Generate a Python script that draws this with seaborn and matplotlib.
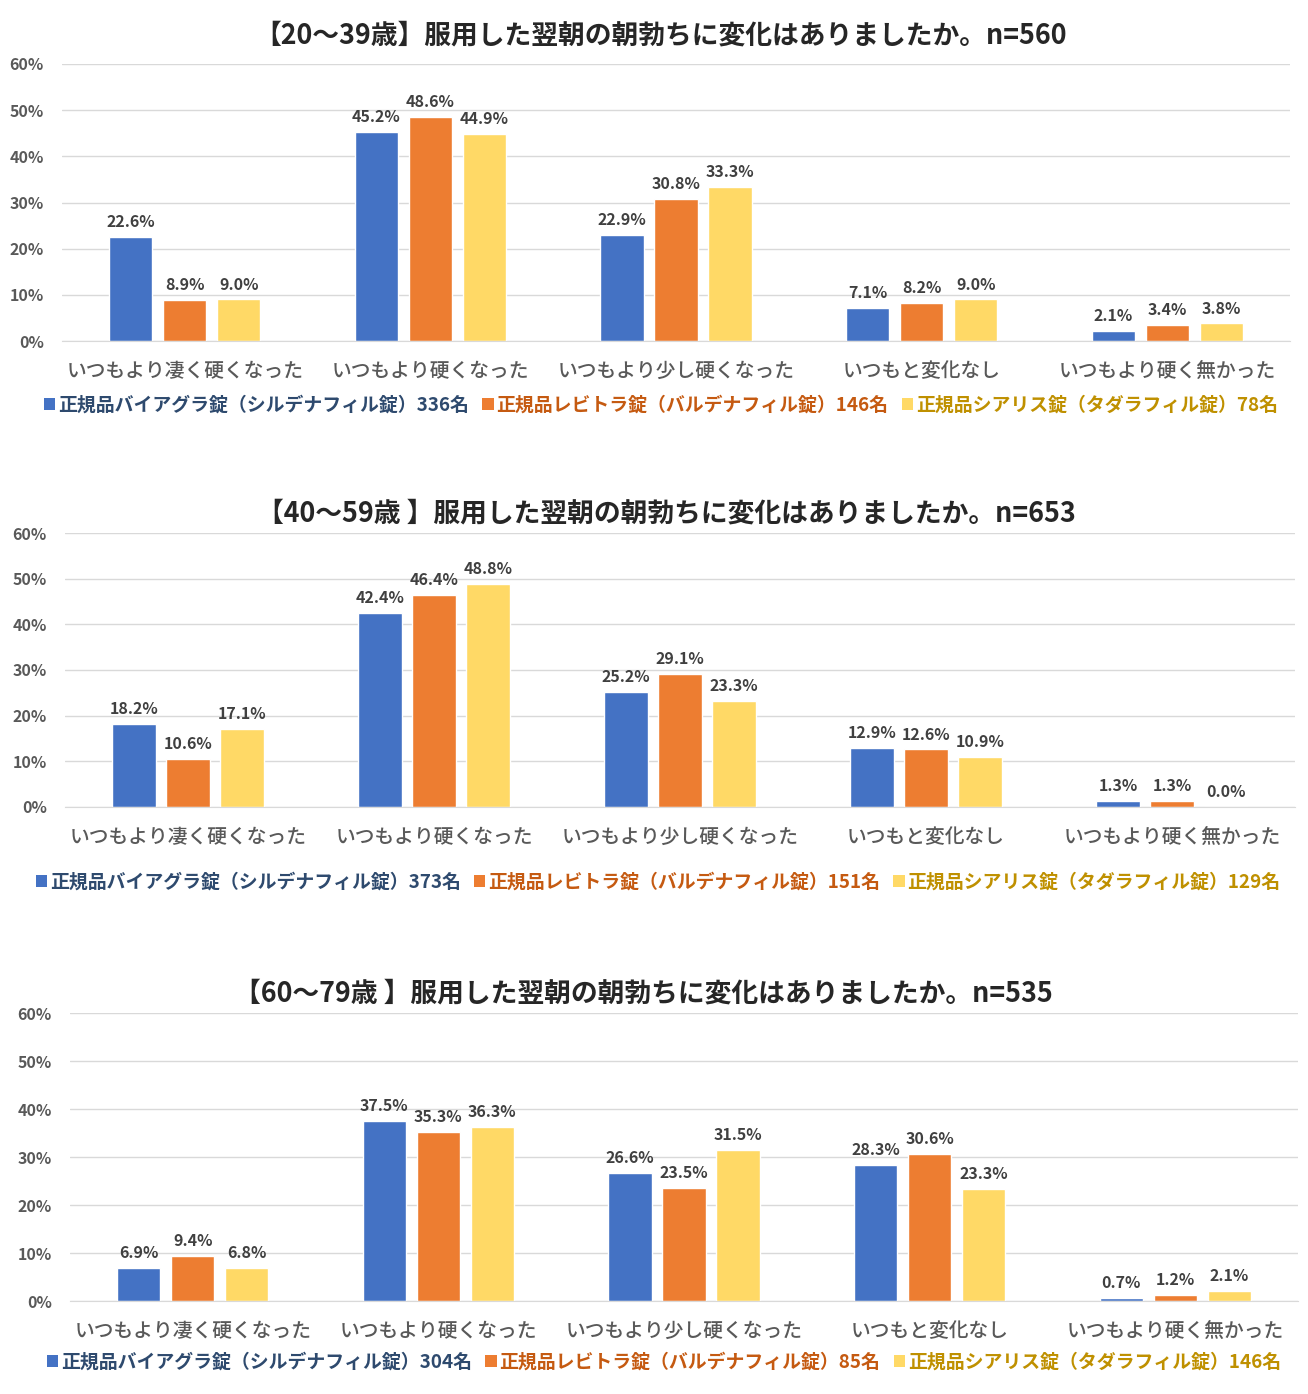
import matplotlib.pyplot as plt
import pandas as pd
import seaborn as sns
from matplotlib.patches import Patch

# Data (percent)
categories = ['いつもより凄く硬くなった', 'いつもより硬くなった', 'いつもより少し硬くなった',
              'いつもと変化なし', 'いつもより硬く無かった']
drugs = ['バイアグラ', 'レビトラ', 'シアリス']

titles = ['【20〜39歳】服用した翌朝の朝勃ちに変化はありましたか。n=560',
          '【40〜59歳 】服用した翌朝の朝勃ちに変化はありましたか。n=653',
          '【60〜79歳 】服用した翌朝の朝勃ちに変化はありましたか。n=535']

viagra_20 = [22.6, 45.2, 22.9, 7.1, 2.1]
levitra_20 = [8.9, 48.6, 30.8, 8.2, 3.4]
cialis_20 = [9.0, 44.9, 33.3, 9.0, 3.8]

viagra_40 = [18.2, 42.4, 25.2, 12.9, 1.3]
levitra_40 = [10.6, 46.4, 29.1, 12.6, 1.3]
cialis_40 = [17.1, 48.8, 23.3, 10.9, 0.0]

viagra_60 = [6.9, 37.5, 26.6, 28.3, 0.7]
levitra_60 = [9.4, 35.3, 23.5, 30.6, 1.2]
cialis_60 = [6.8, 36.3, 31.5, 23.3, 2.1]

legend_counts = [[336, 146, 78], [373, 151, 129], [304, 85, 146]]

legend_names = ['正規品バイアグラ錠（シルデナフィル錠）{}名',
                '正規品レビトラ錠（バルデナフィル錠）{}名',
                '正規品シアリス錠（タダラフィル錠）{}名']

bar_colors = ['#4472C4', '#ED7D31', '#FFD966']
text_colors = ['#2E4A6E', '#C55A11', '#BF9000']

panels = [
    (viagra_20, levitra_20, cialis_20),
    (viagra_40, levitra_40, cialis_40),
    (viagra_60, levitra_60, cialis_60),
]

sns.set_style('white')
plt.rcParams['font.family'] = ['Noto Sans CJK JP', 'DejaVu Sans']

W, H = 1308, 1394
fig = plt.figure(figsize=(W / 100, H / 100), dpi=100)

# pixel boxes: left, right, top(60%), bottom(0%)
boxes = [(62, 1290, 64, 341), (65, 1295, 533, 807), (70, 1298, 1013, 1301)]
title_pos = [(661, 36), (666, 514), (643, 993)]
legend_pos = [(661, 405), (658, 882), (664, 1362)]

for i, (vals, box) in enumerate(zip(panels, boxes)):
    l, r, t, b = box
    ax = fig.add_axes([l / W, 1 - b / H, (r - l) / W, (b - t) / H])

    df = pd.DataFrame({
        'cat': categories * 3,
        'drug': [d for d in drugs for _ in categories],
        'val': vals[0] + vals[1] + vals[2],
    })
    sns.barplot(data=df, x='cat', y='val', hue='drug', hue_order=drugs,
                palette=bar_colors, width=0.66, gap=0.2, saturation=1,
                legend=False, ax=ax)

    for cont in ax.containers:
        ax.bar_label(cont, labels=['{:.1f}%'.format(v) for v in cont.datavalues],
                     padding=5, fontsize=11.5, fontweight='bold', color='#404040')

    ax.set_ylim(0, 60)
    ax.set_xlim(-0.5, 4.5)
    ax.set_yticks(range(0, 61, 10))
    ax.set_yticklabels(['{}%'.format(v) for v in range(0, 61, 10)])
    ax.yaxis.grid(True, color='#D9D9D9', linewidth=1)
    ax.set_axisbelow(True)
    for s in ['top', 'right', 'left']:
        ax.spines[s].set_visible(False)
    ax.spines['bottom'].set_color('#D9D9D9')
    ax.tick_params(axis='y', length=0, pad=13, labelsize=11.5, labelcolor='#595959')
    ax.tick_params(axis='x', length=0, pad=15, labelsize=14.2, labelcolor='#595959')
    for lab in ax.get_yticklabels():
        lab.set_fontweight('bold')
    for lab in ax.get_xticklabels():
        lab.set_fontweight('medium')
    ax.set_xlabel('')
    ax.set_ylabel('')

    tx, ty = title_pos[i]
    fig.text(tx / W, 1 - ty / H, titles[i], ha='center', va='center',
             fontsize=19.3, fontweight='bold', color='#262626')

    handles = [Patch(facecolor=c, edgecolor='none') for c in bar_colors]
    names = [n.format(k) for n, k in zip(legend_names, legend_counts[i])]
    lx, ly = legend_pos[i]
    leg = ax.legend(handles, names, loc='center', ncol=3, frameon=False,
                    bbox_to_anchor=(lx / W, 1 - ly / H), bbox_transform=fig.transFigure,
                    handlelength=0.6, handleheight=0.6, handletextpad=0.15,
                    columnspacing=0.7, prop={'size': 13.6, 'weight': 'bold'})
    for txt, c in zip(leg.get_texts(), text_colors):
        txt.set_color(c)

fig.savefig('out.png', dpi=100)
